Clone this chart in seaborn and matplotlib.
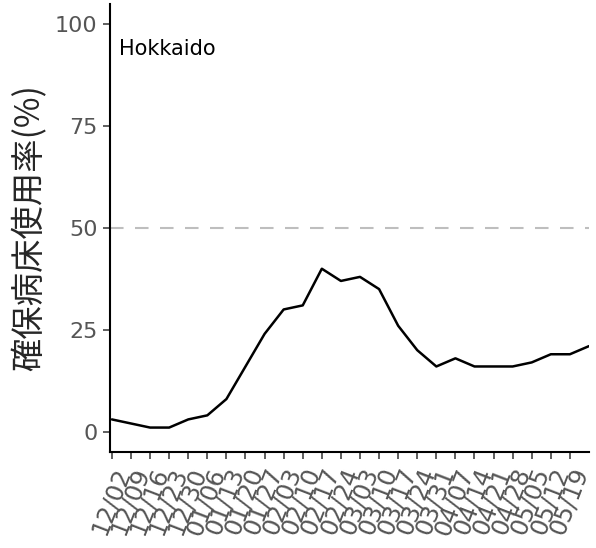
import numpy as np
import pandas as pd
import matplotlib
matplotlib.use('Agg')
import matplotlib.pyplot as plt
import seaborn as sns

sns.set_style('white')
plt.rcParams['font.family'] = ['DejaVu Sans', 'Noto Sans CJK JP']

# weekly dates (last point has no tick label)
dates = ['12/02', '12/09', '12/16', '12/23', '12/30', '01/06', '01/13', '01/20', '01/27',
         '02/03', '02/10', '02/17', '02/24', '03/03', '03/10', '03/17', '03/24', '03/31',
         '04/07', '04/14', '04/21', '04/28', '05/05', '05/12', '05/19', '05/26']
usage = [3, 2, 1, 1, 3, 4, 8, 16, 24, 30, 31, 40, 37, 38, 35, 26, 20, 16, 18, 16,
         16, 16, 17, 19, 19, 21]
tick_labels = dates[:25]
y_ticks = [0, 25, 50, 75, 100]
region = 'Hokkaido'
ylab = '確保病床使用率(%)'

df = pd.DataFrame({'date': dates, 'usage': usage})
df['pos'] = np.arange(len(df))

fig = plt.figure(figsize=(5.96, 5.48), dpi=100)
ax = fig.add_axes([110 / 596, 1 - 452 / 548, (589 - 110) / 596, 448 / 548])

ax.axhline(50, color='#BEBEBE', lw=1.5, ls=(0, (6.5, 5.5)), zorder=1)
sns.lineplot(data=df, x='pos', y='usage', color='black', lw=1.8, ax=ax, zorder=3)

ax.set_xlim(-0.1, 25)
ax.set_ylim(-5, 105)
ax.set_yticks(y_ticks)
ax.set_yticklabels([str(v) for v in y_ticks], fontsize=16, color='#555555')
ax.set_xticks(np.arange(len(tick_labels)))
ax.set_xticklabels(tick_labels, fontsize=17.5, color='#555555', rotation=69,
                   ha='right', va='top', rotation_mode='anchor')

ax.set_xlabel('')
ax.set_ylabel(ylab, fontsize=24, family=['Noto Sans CJK JP', 'DejaVu Sans'], labelpad=5)

for s in ['top', 'right']:
    ax.spines[s].set_visible(False)
for s in ['left', 'bottom']:
    ax.spines[s].set_linewidth(1.5)
    ax.spines[s].set_color('black')
ax.tick_params(axis='both', length=5, width=1.1, color='#333333', pad=4,
               bottom=True, left=True)

ax.text(0.35, 92.6, region, fontsize=15, color='black', va='baseline', ha='left')

fig.savefig('out.png', dpi=100)
